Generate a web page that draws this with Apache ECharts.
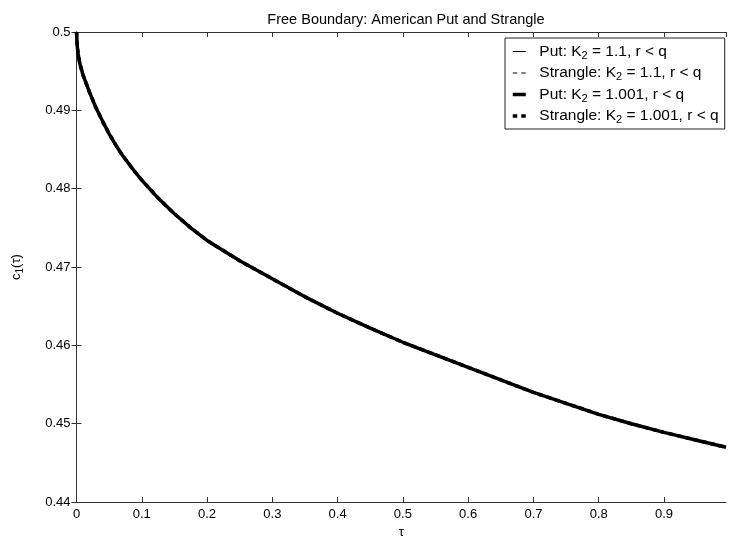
<!DOCTYPE html>
<html>
<head>
<meta charset="utf-8">
<script src="https://cdn.jsdelivr.net/npm/echarts@6/dist/echarts.min.js"></script>
<style>
  html, body { margin: 0; padding: 0; background: #fff; }
  #chart { width: 729px; height: 544px; }
</style>
</head>
<body>
<div id="chart"></div>
<script>
// Time to expiry (tau) samples
const tau = [0, 0.001, 0.0025, 0.005, 0.01, 0.02, 0.03, 0.04, 0.05, 0.06, 0.07, 0.08, 0.09, 0.1,
  0.125, 0.15, 0.175, 0.2, 0.25, 0.3, 0.35, 0.4, 0.45, 0.5, 0.55, 0.6, 0.65, 0.7, 0.75,
  0.8, 0.85, 0.9, 0.95, 0.995];

// Free boundary c1(tau) for each contract (the four curves coincide)
const putK11 = [0.5, 0.4983, 0.4972, 0.4960, 0.4945, 0.4923, 0.4903, 0.4886, 0.4870, 0.4856, 0.4843, 0.4832, 0.4821, 0.4811,
  0.4788, 0.4768, 0.4750, 0.4734, 0.4708, 0.4685, 0.4662, 0.4641, 0.4622, 0.4604, 0.4588, 0.4572, 0.4556, 0.4540, 0.4526,
  0.4512, 0.4500, 0.4489, 0.4479, 0.4470];
const strangleK11 = [0.5, 0.4983, 0.4972, 0.4960, 0.4945, 0.4923, 0.4903, 0.4886, 0.4870, 0.4856, 0.4843, 0.4832, 0.4821, 0.4811,
  0.4788, 0.4768, 0.4750, 0.4734, 0.4708, 0.4685, 0.4662, 0.4641, 0.4622, 0.4604, 0.4588, 0.4572, 0.4556, 0.4540, 0.4526,
  0.4512, 0.4500, 0.4489, 0.4479, 0.4470];
const putK1001 = [0.5, 0.4983, 0.4972, 0.4960, 0.4945, 0.4923, 0.4903, 0.4886, 0.4870, 0.4856, 0.4843, 0.4832, 0.4821, 0.4811,
  0.4788, 0.4768, 0.4750, 0.4734, 0.4708, 0.4685, 0.4662, 0.4641, 0.4622, 0.4604, 0.4588, 0.4572, 0.4556, 0.4540, 0.4526,
  0.4512, 0.4500, 0.4489, 0.4479, 0.4470];
const strangleK1001 = [0.5, 0.4983, 0.4972, 0.4960, 0.4945, 0.4923, 0.4903, 0.4886, 0.4870, 0.4856, 0.4843, 0.4832, 0.4821, 0.4811,
  0.4788, 0.4768, 0.4750, 0.4734, 0.4708, 0.4685, 0.4662, 0.4641, 0.4622, 0.4604, 0.4588, 0.4572, 0.4556, 0.4540, 0.4526,
  0.4512, 0.4500, 0.4489, 0.4479, 0.4470];

const seriesNames = [
  'Put: K2 = 1.1, r < q',
  'Strangle: K2 = 1.1, r < q',
  'Put: K2 = 1.001, r < q',
  'Strangle: K2 = 1.001, r < q'
];

const FONT = '"Liberation Sans", Arial, Helvetica, sans-serif';
const AXIS_COLOR = '#333';

function pairs(ys) { return tau.map((t, i) => [t, ys[i]]); }

function curve(name, ys, width, dashed) {
  return {
    name: name,
    type: 'line',
    data: pairs(ys),
    symbol: 'none',
    smooth: false,
    lineStyle: { color: '#000', width: width, type: dashed ? [4.5, 4] : 'solid', cap: 'butt' },
    itemStyle: { color: '#000' },
    silent: true
  };
}

const chart = echarts.init(document.getElementById('chart'), null, { renderer: 'canvas' });

const xCommon = {
  type: 'value', min: 0, max: 0.995, interval: 0.1,
  axisLine: { show: true, lineStyle: { color: AXIS_COLOR, width: 1 } },
  axisTick: { show: true, inside: true, length: 5, lineStyle: { color: AXIS_COLOR } },
  splitLine: { show: false }
};
const yCommon = {
  type: 'value', min: 0.44, max: 0.5, interval: 0.01,
  axisLine: { show: true, lineStyle: { color: AXIS_COLOR, width: 1 } },
  axisTick: { show: true, inside: true, length: 5, lineStyle: { color: AXIS_COLOR } },
  splitLine: { show: false }
};

chart.setOption({
  animation: false,
  backgroundColor: '#fff',
  title: {
    text: 'Free Boundary: American Put and Strangle',
    left: 401, top: 7, textAlign: 'center',
    textStyle: { fontFamily: FONT, fontSize: 14.5, fontWeight: 'normal', color: '#000' }
  },
  grid: { left: 73, top: 32, right: 3, bottom: 33, containLabel: false },
  legend: {
    orient: 'vertical',
    left: 505, top: 38,
    padding: [4, 6, 3.5, 6],
    itemWidth: 13, itemHeight: 16, itemGap: 2.5,
    backgroundColor: '#fff',
    borderColor: '#222', borderWidth: 1,
    borderRadius: 0,
    selectedMode: false,
    itemStyle: { opacity: 0 },
    lineStyle: { width: 'inherit', type: 'inherit', color: 'inherit', cap: 'butt' },
    data: seriesNames,
    formatter: function (n) { return '  ' + n.replace('K2', 'K{sub|2}'); },
    textStyle: {
      fontFamily: FONT, fontSize: 15.5, color: '#000', lineHeight: 16,
      rich: { sub: { fontFamily: FONT, fontSize: 11, color: '#000', lineHeight: 16, padding: [8, 0, 0, 0] } }
    }
  },
  xAxis: [
    Object.assign({}, xCommon, {
      position: 'bottom',
      name: 'τ', nameLocation: 'middle', nameGap: 20,
      nameTextStyle: { fontFamily: FONT, fontSize: 13, color: '#000' },
      axisLabel: {
        show: true, margin: 6, showMaxLabel: false,
        fontFamily: FONT, fontSize: 13, color: '#000',
        formatter: function (v) { return String(+v.toFixed(2)); }
      }
    }),
    Object.assign({}, xCommon, { position: 'top', axisLabel: { show: false } })
  ],
  yAxis: [
    Object.assign({}, yCommon, {
      position: 'left',
      name: 'c{sub|1}(τ)', nameLocation: 'middle', nameGap: 52, nameRotate: 90,
      nameTextStyle: {
        fontFamily: FONT, fontSize: 13, color: '#000', lineHeight: 16,
        rich: { sub: { fontFamily: FONT, fontSize: 10, color: '#000', lineHeight: 16, padding: [7, 0, 0, 0] } }
      },
      axisLabel: {
        show: true, margin: 6,
        fontFamily: FONT, fontSize: 13, color: '#000',
        formatter: function (v) { return String(+v.toFixed(2)); }
      }
    }),
    Object.assign({}, yCommon, { position: 'right', axisLabel: { show: false } })
  ],
  series: [
    curve(seriesNames[0], putK11, 1, false),
    curve(seriesNames[1], strangleK11, 1, true),
    curve(seriesNames[2], putK1001, 3.5, false),
    curve(seriesNames[3], strangleK1001, 3.5, true)
  ]
});
</script>
</body>
</html>
